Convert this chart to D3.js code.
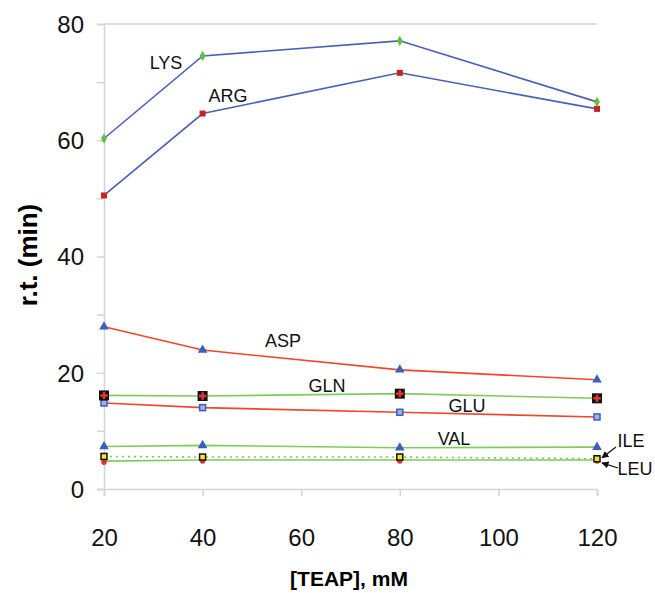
<!DOCTYPE html>
<html>
<head>
<meta charset="utf-8">
<script src="https://cdn.jsdelivr.net/npm/d3@7"></script>
<style>
  body { margin: 0; background: #fff; }
  svg { font-family: "Liberation Sans", Arial, sans-serif; }
</style>
</head>
<body>
<svg id="chart" width="655" height="593"></svg>
<script>
// TEAP concentrations (mM)
const teap = [20, 40, 80, 120];

// retention times (min)
const lys = [60.3, 74.5, 77.1, 66.6];
const arg = [50.5, 64.6, 71.6, 65.4];
const asp = [27.9, 23.9, 20.5, 18.8];
const gln = [16.1, 16.0, 16.4, 15.6];
const glu = [14.8, 14.0, 13.2, 12.4];
const val = [7.3, 7.5, 7.1, 7.2];
const ile = [5.6, 5.5, 5.5, 5.2];
const leu = [4.8, 5.0, 5.0, 5.0];

const xTicks = [20, 40, 60, 80, 100, 120];
const yTicks = [0, 10, 20, 30, 40, 50, 60, 70, 80];

const svg = d3.select("#chart");
const x = d3.scaleLinear().domain([20, 120]).range([104, 597]);
const y = d3.scaleLinear().domain([0, 80]).range([489, 24]);

const BLUE = "#4a5fb8", RED = "#f0462b", GREEN = "#7fcc5c", AXIS = "#d4d4d4";

// top line at 80
svg.append("line")
    .attr("x1", x(20)).attr("x2", x(120))
    .attr("y1", y(80)).attr("y2", y(80))
    .attr("stroke", AXIS).attr("stroke-width", 1.5);

const yAxis = svg.append("g")
    .attr("transform", `translate(${x(20)},0)`)
    .call(d3.axisLeft(y).tickValues(yTicks).tickSize(7)
        .tickFormat(d => d % 20 === 0 ? d : ""));
const xAxis = svg.append("g")
    .attr("transform", `translate(0,${y(0)})`)
    .call(d3.axisBottom(x).tickValues(xTicks).tickSize(7));

[xAxis, yAxis].forEach(g => {
    g.select(".domain").attr("stroke", AXIS).attr("stroke-width", 1.5);
    g.selectAll(".tick line").attr("stroke", AXIS).attr("stroke-width", 1.5);
    g.selectAll("text").attr("fill", "#111").style("font-size", "24px")
        .style("font-family", "'Liberation Sans', Arial, sans-serif");
});
yAxis.selectAll("text").attr("x", -20).attr("dy", "0.35em");
xAxis.selectAll("text").attr("y", 40).attr("dy", "0.71em");

// axis titles
svg.append("text")
    .attr("transform", "translate(37,255) rotate(-90)")
    .attr("text-anchor", "middle")
    .style("font-size", "26px").style("font-weight", "bold")
    .text("r.t. (min)");
svg.append("text")
    .attr("x", 349).attr("y", 586)
    .attr("text-anchor", "middle")
    .style("font-size", "21px").style("font-weight", "bold")
    .text("[TEAP], mM");

const series = [
    {name: "LEU", values: leu, line: GREEN, dash: null, marker: "circle"},
    {name: "ILE", values: ile, line: GREEN, dash: "2,4", marker: "yellow"},
    {name: "VAL", values: val, line: GREEN, dash: null, marker: "triangle"},
    {name: "GLU", values: glu, line: RED, dash: null, marker: "bluesquare"},
    {name: "GLN", values: gln, line: GREEN, dash: null, marker: "blackcross"},
    {name: "ASP", values: asp, line: RED, dash: null, marker: "triangle"},
    {name: "ARG", values: arg, line: BLUE, dash: null, marker: "redsquare"},
    {name: "LYS", values: lys, line: BLUE, dash: null, marker: "diamond"}
];

const line = d3.line().x((d, i) => x(teap[i])).y(d => y(d));

series.forEach(s => {
    svg.append("path")
        .attr("d", line(s.values))
        .attr("fill", "none")
        .attr("stroke", s.line)
        .attr("stroke-width", 1.6)
        .attr("stroke-dasharray", s.dash);
});

series.forEach(s => {
    const g = svg.append("g");
    s.values.forEach((v, i) => {
        const cx = x(teap[i]), cy = y(v);
        switch (s.marker) {
            case "circle":
                g.append("circle").attr("cx", cx).attr("cy", cy + 1).attr("r", 2.8).attr("fill", "#e8322a");
                break;
            case "yellow":
                g.append("rect").attr("x", cx - 3).attr("y", cy - 3).attr("width", 6).attr("height", 6)
                    .attr("fill", "#f2e62a").attr("stroke", "#111").attr("stroke-width", 1.5);
                break;
            case "triangle":
                g.append("path").attr("d", d3.symbol(d3.symbolTriangle, 40)())
                    .attr("transform", `translate(${cx},${cy})`).attr("fill", "#3a5fc0");
                break;
            case "bluesquare":
                g.append("rect").attr("x", cx - 3).attr("y", cy - 3).attr("width", 6).attr("height", 6)
                    .attr("fill", "#9fb3e0").attr("stroke", "#3a5fc0").attr("stroke-width", 1.5);
                break;
            case "blackcross":
                g.append("rect").attr("x", cx - 5).attr("y", cy - 5).attr("width", 10).attr("height", 10)
                    .attr("fill", "#111");
                g.append("path").attr("d", d3.symbol(d3.symbolCross, 30)())
                    .attr("transform", `translate(${cx},${cy})`).attr("fill", "#e8322a");
                break;
            case "redsquare":
                g.append("rect").attr("x", cx - 3).attr("y", cy - 3).attr("width", 6).attr("height", 6)
                    .attr("fill", "#c8211e");
                break;
            case "diamond":
                g.append("path").attr("d", d3.symbol(d3.symbolDiamond, 30)())
                    .attr("transform", `translate(${cx},${cy})`).attr("fill", "#5cc23a");
                break;
        }
    });
});

// series labels
const labels = [
    {text: "LYS", x: 166, y: 69},
    {text: "ARG", x: 228, y: 102},
    {text: "ASP", x: 283, y: 347},
    {text: "GLN", x: 327, y: 392},
    {text: "GLU", x: 467, y: 412},
    {text: "VAL", x: 454, y: 445},
    {text: "ILE", x: 631, y: 447},
    {text: "LEU", x: 635, y: 475}
];
svg.selectAll(".lbl").data(labels).enter().append("text")
    .attr("class", "lbl")
    .attr("x", d => d.x).attr("y", d => d.y)
    .attr("text-anchor", "middle")
    .style("font-size", "18px")
    .attr("fill", "#111")
    .text(d => d.text);

// arrows for ILE and LEU
svg.append("defs").append("marker")
    .attr("id", "arrow").attr("viewBox", "0 0 10 10")
    .attr("refX", 9).attr("refY", 5)
    .attr("markerWidth", 6).attr("markerHeight", 6)
    .attr("orient", "auto")
    .append("path").attr("d", "M0,0 L10,5 L0,10 z").attr("fill", "#111");
svg.append("line")
    .attr("x1", 616).attr("y1", 447).attr("x2", x(120) + 5).attr("y2", y(ile[3]) - 1)
    .attr("stroke", "#111").attr("stroke-width", 1.2).attr("marker-end", "url(#arrow)");
svg.append("line")
    .attr("x1", 618).attr("y1", 468).attr("x2", x(120) + 5).attr("y2", y(leu[3]) + 3)
    .attr("stroke", "#111").attr("stroke-width", 1.2).attr("marker-end", "url(#arrow)");
</script>
</body>
</html>
